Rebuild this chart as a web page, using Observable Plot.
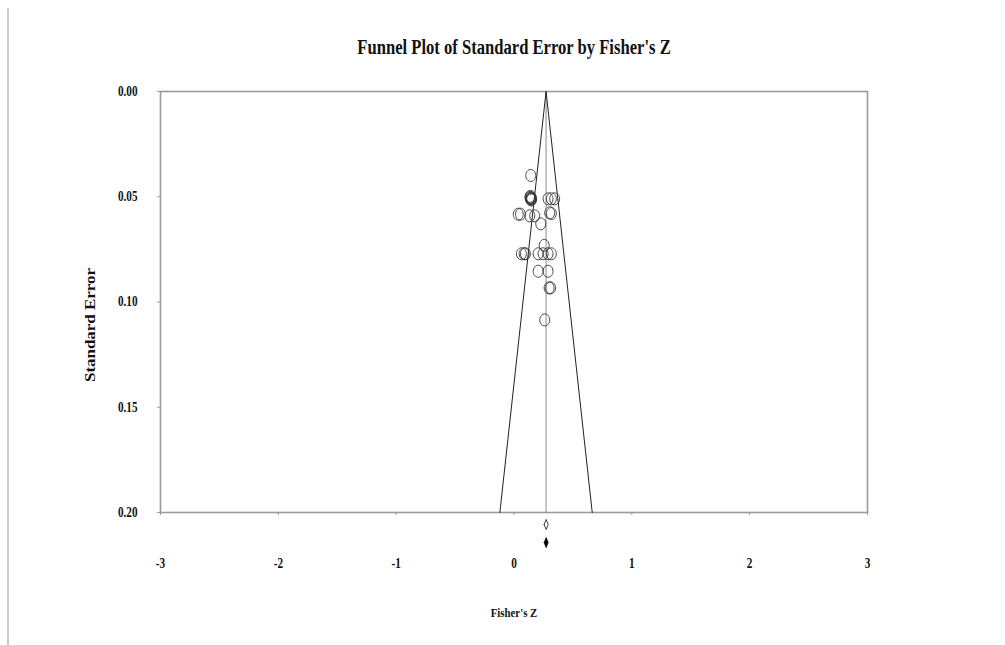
<!DOCTYPE html>
<html>
<head>
<meta charset="utf-8">
<script src="https://cdn.jsdelivr.net/npm/d3@7"></script>
<script src="https://cdn.jsdelivr.net/npm/@observablehq/plot@0.6"></script>
<style>
  html, body { margin: 0; padding: 0; background: #fff; }
  #wrap { position: relative; width: 1005px; height: 645px; }
  #edge { position: absolute; left: 7px; top: 8px; width: 2px; height: 637px; background: #c8c8c8; }
</style>
</head>
<body>
<div id="wrap"><div id="edge"></div></div>
<script>
// ---- data ----
const titleText = "Funnel Plot of Standard Error by Fisher's Z";
const xLabel = "Fisher's Z";
const yLabel = "Standard Error";
const xTicks = [-3, -2, -1, 0, 1, 2, 3];
const yTicks = [0, 0.05, 0.10, 0.15, 0.20];

// study effect sizes (Fisher's Z) and standard errors
const studyZ  = [0.142, 0.135, 0.140, 0.145, 0.150, 0.142, 0.138, 0.147, 0.289, 0.317, 0.345, 0.036,
                 0.055, 0.134, 0.176, 0.227, 0.303, 0.317, 0.256, 0.063, 0.086, 0.097,
                 0.205, 0.247, 0.289, 0.317, 0.205, 0.289, 0.298, 0.311, 0.261];
const studySE = [0.0399, 0.0503, 0.0508, 0.0505, 0.0510, 0.0513, 0.0498, 0.0515, 0.0510, 0.0510, 0.0510, 0.0583,
                 0.0583, 0.0591, 0.0591, 0.0629, 0.0576, 0.0580, 0.0731, 0.0771, 0.0771, 0.0771,
                 0.0771, 0.0771, 0.0771, 0.0771, 0.0854, 0.0854, 0.0933, 0.0933, 0.1085];

// summary effect (observed, adjusted)
const summaryNames = ["Observed", "Adjusted"];
const summaryZ     = [0.273, 0.273];
const summaryLow   = [0.256, 0.256];
const summaryHigh  = [0.290, 0.290];
const summaryFill  = ["white", "black"];

const funnelCenter = 0.272;
const maxSE = 0.20;

// ---- build tables ----
const studies = studyZ.map((z, i) => ({z, se: studySE[i]}));
const funnel = [
  {z: funnelCenter - 1.96 * maxSE, se: maxSE},
  {z: funnelCenter, se: 0},
  {z: funnelCenter + 1.96 * maxSE, se: maxSE}
];
const diamonds = [];
summaryNames.forEach((name, i) => {
  const yc = maxSE + 0.0057 + i * 0.0086;
  const h = 0.0024;
  [[summaryLow[i], yc], [summaryZ[i], yc - h], [summaryHigh[i], yc], [summaryZ[i], yc + h], [summaryLow[i], yc]]
    .forEach(([z, se]) => diamonds.push({name, z, se, fill: summaryFill[i]}));
});

const ellipse = {
  draw(ctx, size) {
    const r = Math.sqrt(size / Math.PI), rx = r * 0.83, ry = r, k = 0.5523;
    ctx.moveTo(rx, 0);
    ctx.bezierCurveTo(rx, ry * k, rx * k, ry, 0, ry);
    ctx.bezierCurveTo(-rx * k, ry, -rx, ry * k, -rx, 0);
    ctx.bezierCurveTo(-rx, -ry * k, -rx * k, -ry, 0, -ry);
    ctx.bezierCurveTo(rx * k, -ry, rx, -ry * k, rx, 0);
    ctx.closePath();
  }
};

const font = "'Liberation Serif', 'Times New Roman', serif";

const chart = Plot.plot({
  width: 1005,
  height: 645,
  marginLeft: 160,
  marginRight: 138,
  marginTop: 91,
  marginBottom: 133,
  style: {fontFamily: font, fontWeight: "bold", fontSize: "13px", color: "#111", background: "transparent"},
  x: {domain: [-3, 3]},
  y: {domain: [0, maxSE], reverse: true},
  marks: [
    Plot.frame({stroke: "#9a9a9a", strokeWidth: 1.6}),
    Plot.axisY({ticks: yTicks, tickFormat: d3.format(".2f"), tickSize: 3, tickPadding: 20, stroke: "#9a9a9a", label: null, fill: "#111", fontSize: 14, fontWeight: "bold", className: "tick-lab"}),
    Plot.axisX({ticks: xTicks, tickFormat: d => String(d), tickSize: 3, tickPadding: 43, stroke: "#9a9a9a", label: null, fill: "#111", fontSize: 14, fontWeight: "bold", className: "tick-lab"}),
    Plot.ruleX([funnelCenter], {y1: 0, y2: maxSE, stroke: "#8a8a8a", strokeWidth: 1}),
    Plot.line(funnel, {x: "z", y: "se", stroke: "#222", strokeWidth: 1}),
    Plot.dot(studies, {x: "z", y: "se", r: 6, symbol: ellipse, stroke: "#333", strokeWidth: 0.9, fill: "none"}),
    Plot.line(diamonds, {x: "z", y: "se", z: "name", fill: "fill", stroke: "#111", strokeWidth: 0.8}),
    Plot.text([titleText], {frameAnchor: "top", lineAnchor: "middle", dy: -44, fontSize: 20, fontWeight: "bold", fill: "#111"}),
    Plot.text([xLabel], {frameAnchor: "bottom", lineAnchor: "middle", dy: 100, fontSize: 13, fontWeight: "bold", fill: "#111"}),
    Plot.text([yLabel], {frameAnchor: "left", dx: -70, dy: 23, rotate: -90, textAnchor: "middle", fontSize: 14, fontWeight: "bold", fill: "#111", className: "ylab"})
  ]
});

document.getElementById("wrap").appendChild(chart);

// horizontal compression of the reference typography
d3.select(chart).selectAll("text").each(function () {
  const isY = this.closest(".ylab");
  const len = this.getComputedTextLength();
  if (!len) return;
  if (isY) {
    this.setAttribute("textLength", 114);
  } else {
    const f = this.closest(".tick-lab") ? 0.8 : 0.83;
    this.setAttribute("textLength", (len * f).toFixed(1));
  }
  this.setAttribute("lengthAdjust", "spacingAndGlyphs");
});
</script>
</body>
</html>
